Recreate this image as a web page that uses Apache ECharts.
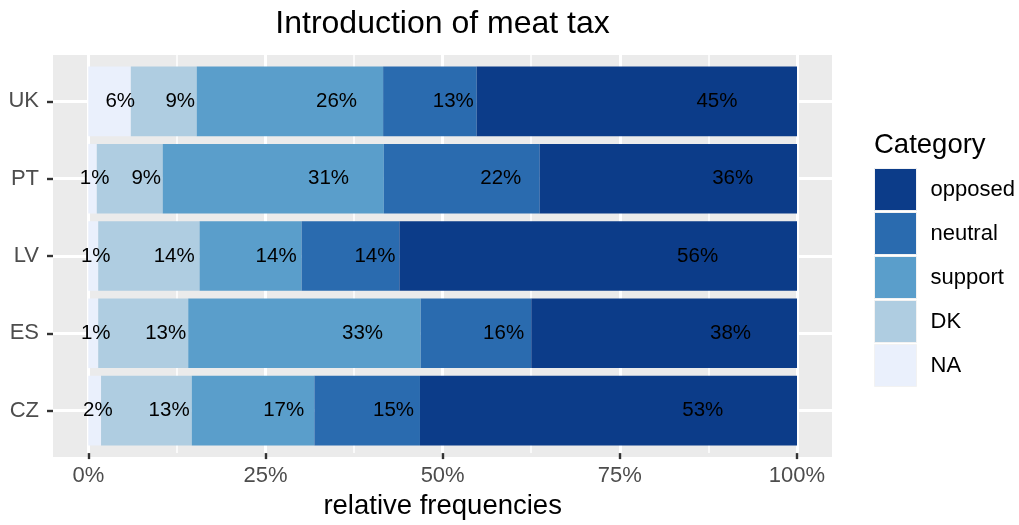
<!DOCTYPE html>
<html>
<head>
<meta charset="utf-8">
<script src="https://cdn.jsdelivr.net/npm/echarts@6/dist/echarts.min.js"></script>
<style>
html,body{margin:0;padding:0;background:#fff;}
#chart{width:1019px;height:525px;}
</style>
</head>
<body>
<div id="chart"></div>
<script>
// ---- data ----
const categories = ['CZ', 'ES', 'LV', 'PT', 'UK'];
const stackOrder = ['NA', 'DK', 'support', 'neutral', 'opposed'];
const naValues      = [1.8, 1.4, 1.4, 1.2, 6.0];
const dkValues      = [12.8, 12.7, 14.3, 9.3, 9.3];
const supportValues = [17.3, 32.8, 14.4, 31.2, 26.3];
const neutralValues = [14.9, 15.6, 13.8, 22.0, 13.2];
const opposedValues = [53.2, 37.5, 56.1, 36.3, 45.2];
const legendOrder = ['opposed', 'neutral', 'support', 'DK', 'NA'];
const xTickStep = 25;
const chartTitle = 'Introduction of meat tax';
const xTitle = 'relative frequencies';
const legendTitle = 'Category';

const valuesByName = {
  'NA': naValues, 'DK': dkValues, 'support': supportValues,
  'neutral': neutralValues, 'opposed': opposedValues
};
const colors = {
  'NA': '#EAF0FC', 'DK': '#AFCDE1', 'support': '#5A9ECB',
  'neutral': '#2A6BAF', 'opposed': '#0C3C89'
};

const FONT = 'Liberation Sans, Arial, Helvetica, sans-serif';

// label positions: 3/4 of the way through each stacked segment
const labelData = [];
const running = categories.map(() => 0);
stackOrder.forEach(name => {
  valuesByName[name].forEach((v, i) => {
    labelData.push({ value: [running[i] + 0.75 * v, categories[i]], txt: Math.round(v) + '%' });
    running[i] += v;
  });
});

const barSeries = stackOrder.map(name => ({
  name: name,
  type: 'bar',
  stack: 'total',
  xAxisIndex: 3,
  yAxisIndex: 3,
  barWidth: '90%',
  itemStyle: { color: colors[name] },
  emphasis: { disabled: true },
  data: valuesByName[name]
}));

const chart = echarts.init(document.getElementById('chart'), null, { renderer: 'canvas' });

const option = {
  animation: false,
  backgroundColor: '#ffffff',
  textStyle: { fontFamily: FONT },
  grid: [
    { left: 53, right: 187, top: 55, bottom: 68, show: true, backgroundColor: '#EBEBEB', borderWidth: 0 },
    { left: 53, right: 187, top: 101.4, bottom: 114.4 },
    { left: 88.3, right: 222, top: 55, bottom: 68 },
    { left: 88.3, right: 222, top: 62.73, bottom: 75.73 }
  ],
  xAxis: [
    { gridIndex: 0, type: 'value', show: false, min: 0, max: 1 },
    { gridIndex: 1, type: 'value', show: false, min: 0, max: 1 },
    {
      gridIndex: 2, type: 'value', min: 0, max: 100, interval: xTickStep,
      axisLine: { show: false },
      axisTick: { show: true, length: 6, lineStyle: { color: '#333333', width: 2.4 } },
      axisLabel: { formatter: '{value}%', fontSize: 22, color: '#4D4D4D', margin: 12, fontFamily: FONT, showMinLabel: true, showMaxLabel: true },
      splitLine: { show: true, lineStyle: { color: '#FFFFFF', width: 3 } },
      minorTick: { show: false, splitNumber: 2 },
      minorSplitLine: { show: true, lineStyle: { color: '#FFFFFF', width: 1.5 } },
      name: xTitle, nameLocation: 'middle', nameGap: 36,
      nameTextStyle: { fontSize: 27.5, color: '#000000', fontFamily: FONT }
    },
    { gridIndex: 3, type: 'value', show: false, min: 0, max: 100 }
  ],
  yAxis: [
    { gridIndex: 0, type: 'value', show: false, min: 0, max: 1 },
    {
      gridIndex: 1, type: 'category', data: categories, boundaryGap: false,
      axisLine: { show: false },
      axisTick: { show: true, length: 6, lineStyle: { color: '#333333', width: 2.4 } },
      axisLabel: { fontSize: 22, color: '#4D4D4D', margin: 14, fontFamily: FONT },
      splitLine: { show: true, lineStyle: { color: '#FFFFFF', width: 3 } }
    },
    { gridIndex: 2, type: 'value', show: false, min: 0, max: 1 },
    { gridIndex: 3, type: 'category', data: categories, show: false }
  ],
  legend: {
    data: legendOrder,
    orient: 'vertical',
    left: 874, top: 168,
    padding: 0,
    itemWidth: 42, itemHeight: 42, itemGap: 1,
    icon: 'rect',
    selectedMode: false,
    itemStyle: { borderColor: '#F2F2F2', borderWidth: 1 },
    textStyle: { fontSize: 22, color: '#000000', fontFamily: FONT, padding: [0, 0, 0, 9] }
  },
  graphic: [
    { type: 'text', x: 442.5, y: 8, style: { text: chartTitle, fontSize: 32, fontFamily: FONT, fill: '#000', align: 'center', verticalAlign: 'top' } },
    { type: 'text', x: 874, y: 131, style: { text: legendTitle, fontSize: 27.5, fontFamily: FONT, fill: '#000', align: 'left', verticalAlign: 'top' } }
  ],
  series: barSeries.concat([{
    name: 'labels',
    type: 'scatter',
    xAxisIndex: 3,
    yAxisIndex: 3,
    symbolSize: 0,
    silent: true,
    z: 5,
    itemStyle: { color: 'rgba(0,0,0,0)' },
    label: {
      show: true, position: 'inside', fontSize: 20.5, color: '#000000', fontFamily: FONT,
      textBorderWidth: 0, textBorderColor: 'transparent', opacity: 1,
      formatter: p => p.data.txt
    },
    data: labelData
  }])
};

chart.setOption(option);
</script>
</body>
</html>
